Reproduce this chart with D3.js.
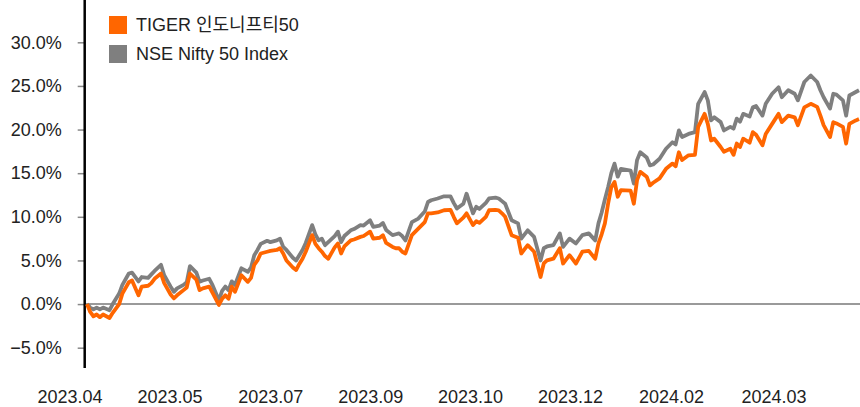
<!DOCTYPE html>
<html lang="ko">
<head>
    <meta charset="UTF-8">
    <title>TIGER 인도니프티50 vs NSE Nifty 50 Index</title>
    <script src="https://d3js.org/d3.v7.min.js"></script>
    <style>
        body {
            margin: 0;
            background: #fff;
            font-family: "Liberation Sans", Arial, "Noto Sans CJK KR", sans-serif;
        }
        svg text {
            fill: #222;
        }
    </style>
</head>
<body>
    <svg id="chart" width="860" height="407"></svg>

    <script>
        const width = 860, height = 407;

        // Trading day index (0 = start of 2023.04) and cumulative returns (%)
        const days = [0,1,2,3,4,5,7,8,10,11,13,14,16,17,19,20,21,23,24,26,27,28,30,31,32,34,35,36,38,39,
            41,42,43,44,45,46,48,50,51,52,53,54,56,57,59,60,61,62,64,65,66,67,68,70,71,72,73,74,75,77,
            78,79,80,82,83,85,86,88,89,91,92,93,95,96,97,98,99,101,103,105,106,107,109,111,113,114,115,117,118,120,
            121,122,124,125,127,128,129,130,132,134,135,137,139,141,142,143,145,147,148,150,152,154,156,158,159,160,161,162,163,164,
            165,166,169,170,171,172,174,175,176,178,180,182,183,184,185,187,189,190,192,193,194,195,197,198,200,201,202,203,204,206,
            207,208,210,211,213,215,216,218,220,221,223,225,227,228,229,231,232,233,235,236,237,239,240];

        const nifty = [0,-0.4,-0.6,-0.4,-0.6,-0.4,-0.7,0.0,1.2,2.2,3.5,3.6,2.6,3.1,3.0,3.4,3.8,4.5,3.3,2.0,
            1.4,1.8,2.2,2.5,4.35,3.6,2.55,2.7,2.9,2.2,0.45,1.5,2.0,1.6,2.6,2.2,4.1,3.7,4.2,5.6,
            6.2,6.9,7.25,7.1,7.3,7.5,6.55,6.2,5.3,5.0,5.6,6.2,7.0,9.05,8.0,7.3,7.5,6.75,7.1,7.8,
            8.3,7.1,7.8,8.45,8.6,9.05,9.0,9.6,8.85,9.0,9.3,8.5,7.9,8.0,8.1,7.8,7.3,9.4,9.8,10.6,
            11.7,11.9,12.1,12.35,12.35,11.6,10.95,11.5,12.65,10.4,11.15,10.9,11.6,12.1,12.2,12.1,11.8,11.5,9.6,9.25,
            7.5,8.45,7.7,5.0,6.4,6.6,6.75,8.1,6.55,7.5,6.95,7.9,8.1,7.3,9.25,10.5,12.0,13.4,15.0,16.1,
            14.6,15.5,15.3,13.8,16.5,17.4,16.8,15.9,16.0,16.65,17.8,18.55,18.3,19.9,19.15,19.5,19.7,22.95,24.3,23.35,
            21.05,21.4,20.85,19.9,20.3,20.1,21.25,20.9,21.8,21.5,22.55,22.7,21.6,22.95,24.1,24.85,23.7,24.5,24.1,23.35,
            25.45,26.2,25.45,24.5,23.7,22.4,24.1,24.0,23.35,21.6,23.9,24.3,24.5];

        const tiger = [0,-0.9,-1.4,-1.2,-1.5,-1.2,-1.6,-1.0,0.0,1.2,2.5,2.7,1.0,2.0,2.1,2.4,2.9,3.5,2.4,1.1,
            0.65,1.0,1.6,1.9,3.5,2.8,1.6,1.8,2.0,1.3,-0.1,0.6,1.0,0.6,2.0,1.4,3.3,2.55,3.0,4.5,
            5.0,5.8,6.0,6.1,6.2,6.4,5.8,5.0,4.2,3.9,4.6,5.2,6.0,7.9,6.9,6.4,6.0,5.5,5.2,6.5,
            6.95,5.8,6.6,7.3,7.4,7.7,7.8,8.3,7.5,7.6,7.9,7.0,6.55,6.4,6.4,6.0,5.8,7.9,8.65,9.4,
            10.4,10.4,10.5,10.75,10.8,10.0,9.25,9.9,10.4,9.05,9.5,9.3,10.0,10.75,10.8,10.75,10.4,10.0,7.9,7.6,
            5.8,6.75,6.0,3.1,4.65,5.0,5.2,6.4,4.65,5.6,4.65,6.0,6.1,5.2,6.95,8.0,9.25,11.5,13.4,14.0,
            12.3,13.05,13.0,11.5,14.2,15.15,14.6,13.6,13.9,14.4,15.5,16.1,15.8,17.4,16.5,17.05,17.1,20.3,21.8,20.65,
            18.75,18.95,18.0,17.45,17.8,17.1,18.4,18.0,18.95,18.5,19.7,19.4,18.2,19.5,20.65,21.8,20.85,21.6,21.4,20.5,
            22.55,22.95,22.6,21.6,20.5,19.15,20.85,20.7,20.3,18.4,20.65,21.05,21.2];

        const tickLabels = ["2023.04", "2023.05", "2023.07", "2023.09", "2023.10", "2023.12", "2024.02", "2024.03"];
        const tickDays = [-5.3, 25.8, 57.1, 88.2, 119.2, 150.3, 181.7, 213.6];
        const yTicks = [-5, 0, 5, 10, 15, 20, 25, 30];

        const seriesNames = ["TIGER 인도니프티50", "NSE Nifty 50 Index"];
        const seriesColors = ["#ff6600", "#7f7f7f"];

        const svg = d3.select("#chart");

        const x = d3.scaleLinear().domain([0, 240]).range([87, 859]);
        const y = d3.scaleLinear().domain([-5, 30]).range([347.7, 42.3]);

        // zero line
        svg.append("line")
            .attr("x1", 85).attr("x2", 860)
            .attr("y1", y(0)).attr("y2", y(0))
            .attr("stroke", "#9a9a9a")
            .attr("stroke-width", 2);

        // y axis
        const yAxis = svg.append("g")
            .attr("transform", "translate(84.7,0)")
            .call(d3.axisLeft(y).tickValues(yTicks).tickSize(7).tickPadding(16)
                .tickFormat(d => (d < 0 ? "\u2212" + Math.abs(d).toFixed(1) : d.toFixed(1)) + "%"));
        yAxis.select(".domain").remove();
        yAxis.selectAll(".tick line").attr("stroke", "#888").attr("stroke-width", 1.5);
        yAxis.selectAll(".tick text")
            .attr("font-size", "18px")
            .attr("font-family", "Liberation Sans, Arial, sans-serif")
            .attr("fill", "#222");

        svg.append("line")
            .attr("x1", 84.7).attr("x2", 84.7)
            .attr("y1", 0).attr("y2", 368)
            .attr("stroke", "#000")
            .attr("stroke-width", 2.5);

        // x labels
        svg.append("g")
            .selectAll("text")
            .data(tickLabels)
            .join("text")
            .attr("x", (d, i) => x(tickDays[i]))
            .attr("y", 403)
            .attr("text-anchor", "middle")
            .attr("font-size", "18px")
            .text(d => d);

        // lines
        const line = d3.line()
            .x((d, i) => x(days[i]))
            .y(d => y(d));

        svg.append("path")
            .datum(nifty)
            .attr("fill", "none")
            .attr("stroke", seriesColors[1])
            .attr("stroke-width", 3.8)
            .attr("stroke-linejoin", "round")
            .attr("d", line);

        svg.append("path")
            .datum(tiger)
            .attr("fill", "none")
            .attr("stroke", seriesColors[0])
            .attr("stroke-width", 3.8)
            .attr("stroke-linejoin", "round")
            .attr("d", line);

        // legend
        const legend = svg.append("g")
            .selectAll("g")
            .data(seriesNames)
            .join("g")
            .attr("transform", (d, i) => `translate(109,${16 + i * 29})`);

        legend.append("rect")
            .attr("width", 18).attr("height", 18)
            .attr("fill", (d, i) => seriesColors[i]);

        legend.append("text")
            .attr("x", 27)
            .attr("y", 9)
            .attr("dy", "0.36em")
            .attr("font-size", "18px")
            .attr("font-family", "Liberation Sans, Arial, 'Noto Sans CJK KR', sans-serif")
            .text(d => d);
    </script>
</body>
</html>
